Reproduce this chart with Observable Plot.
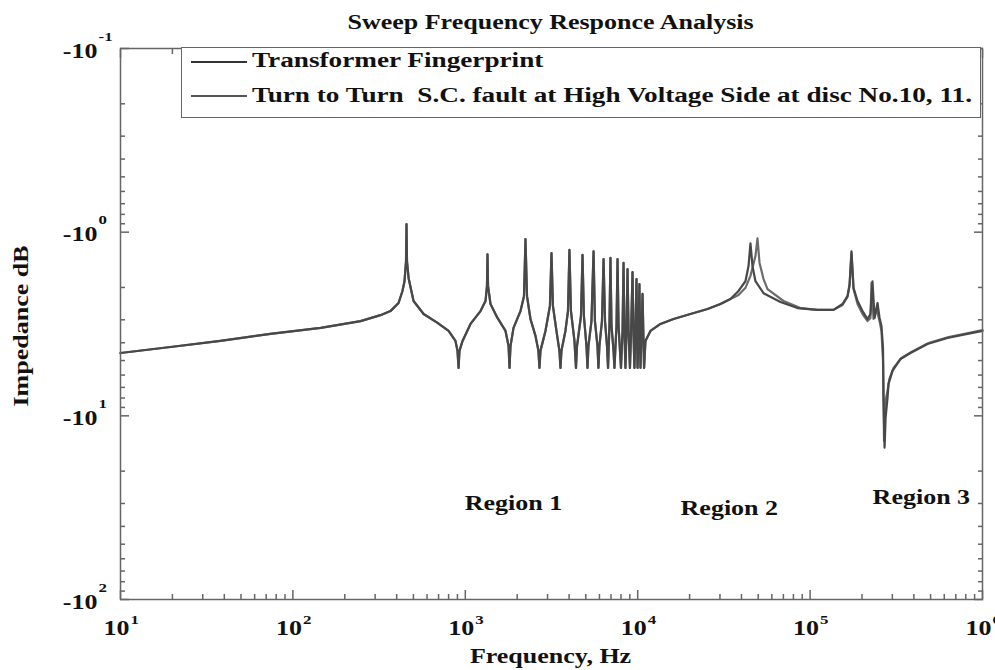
<!DOCTYPE html>
<html>
<head>
<meta charset="utf-8">
<script src="https://cdn.jsdelivr.net/npm/d3@7"></script>
<script src="https://cdn.jsdelivr.net/npm/@observablehq/plot@0.6"></script>
<style>
  body { margin: 0; background: #fff; }
  #wrap { position: relative; width: 995px; height: 670px; overflow: hidden; background: #fff;
          font-family: "Liberation Serif", "Times New Roman", serif; font-weight: bold; color: #111; }
  #legend { position: absolute; box-sizing: border-box; left: 181px; top: 47px; width: 800px; height: 71px;
            border: 1.5px solid #666; background: #fff; }
  .swatch { position: absolute; left: 9px; width: 56px; height: 0; border-top: 2px solid #333; }
  .lab { position: absolute; left: 70px; font-size: 20px; line-height: 1; white-space: pre;
         transform: scaleX(1.36); transform-origin: 0 0; }
</style>
</head>
<body>
<div id="wrap">
  <div id="legend"></div>
</div>
<script>
// ---- data ----
const seriesNames = ["Transformer Fingerprint", "Turn to Turn  S.C. fault at High Voltage Side at disc No.10, 11."];
const seriesColors = ["#484848", "#6c6c6c"];

// Region 1 (both responses overlap)
const sharedFreq = [
  10, 19.5, 38, 74, 145, 247, 322, 368, 410, 432,
  444, 453, 456, 459, 469, 501, 573, 690, 800, 877,
  901, 914, 925, 964, 1072, 1225, 1310, 1336, 1345, 1355,
  1400, 1537, 1711, 1782, 1805, 1829, 1904, 2090, 2190, 2234,
  2280, 2388, 2553, 2656, 2692, 2729, 2917, 3097, 3162, 3223,
  3378, 3516, 3565, 3611, 3809, 3941, 4018, 4100, 4297, 4385,
  4446, 4688, 4786, 4875, 5045, 5115, 5180, 5393, 5546, 5649,
  5844, 5918, 5996, 6205, 6339, 6463, 6637, 6730, 6855, 6950,
  7047, 7243, 7328, 7534, 7638, 7744, 7895, 7999, 8166, 8277,
  8375, 8492, 8610, 8730, 8851, 9017, 9141, 9333, 9462, 9572,
  9705, 9840, 9977, 10115, 10233, 10375, 10520, 10666, 10890, 11091,
  11858, 13552, 16138, 20231, 25410, 30200, 34514
];
const sharedImp = [
  -4.55, -4.22, -3.91, -3.58, -3.32, -3.05, -2.83, -2.69, -2.43, -2.09,
  -1.85, -1.44, -0.905, -1.44, -1.78, -2.37, -2.79, -3.12, -3.45, -3.91,
  -4.43, -5.48, -4.43, -3.91, -3.16, -2.69, -2.37, -1.96, -1.32, -1.96,
  -2.46, -2.93, -3.45, -4.17, -5.48, -4.17, -3.32, -2.69, -2.23, -1.09,
  -2.23, -2.97, -3.67, -4.43, -5.48, -4.43, -3.45, -2.52, -1.30, -2.52,
  -3.45, -4.43, -5.48, -4.43, -3.45, -2.69, -1.25, -2.69, -3.91, -5.48,
  -4.17, -2.86, -1.33, -2.86, -4.17, -5.48, -4.17, -3.05, -1.27, -3.05,
  -4.17, -5.48, -4.17, -3.05, -1.40, -3.05, -4.17, -5.48, -3.24, -1.38,
  -3.24, -4.43, -5.48, -3.24, -1.40, -3.24, -4.43, -5.48, -3.45, -1.47,
  -3.45, -5.48, -3.45, -1.59, -3.45, -5.48, -3.67, -1.65, -3.67, -5.48,
  -3.67, -1.80, -5.48, -3.67, -1.92, -5.48, -3.67, -2.17, -5.48, -3.91,
  -3.45, -3.16, -2.97, -2.79, -2.62, -2.46, -2.31
];

// Regions 2-3, fingerprint
const fpFreq = [
  38440, 42170, 43940, 45090, 46330, 48200, 53700, 67300, 84530, 110400,
  136700, 154200, 164800, 169400, 173800, 178600, 188400, 201400, 215300, 223900,
  230100, 236600, 246000, 252900, 259400, 264800, 266600, 270400, 274100, 281200,
  285100, 300600, 334300, 382000, 479700, 626800, 818500, 1000000
];
const fpImp = [
  -2.09, -1.85, -1.53, -1.15, -1.53, -1.85, -2.15, -2.40, -2.59, -2.65,
  -2.65, -2.46, -2.23, -1.92, -1.27, -2.01, -2.37, -2.69, -2.97, -2.79,
  -1.85, -2.93, -2.43, -2.93, -3.24, -4.27, -7.98, -14.9, -10.25, -7.98,
  -6.70, -5.69, -4.90, -4.55, -4.06, -3.77, -3.58, -3.45
];

// Regions 2-3, short-circuit fault
const scFreq = [
  38440, 42170, 45090, 48200, 49530, 50900, 53700, 56620, 70150, 87950,
  110400, 136700, 154200, 164800, 169400, 173800, 178600, 188400, 201400, 215300,
  223900, 227000, 233300, 242700, 252900, 259400, 264800, 268500, 274100, 281200,
  288400, 304800, 338800, 387300, 486400, 635300, 828000, 1000000
];
const scImp = [
  -2.20, -2.01, -1.73, -1.35, -1.08, -1.47, -1.80, -2.04, -2.37, -2.59,
  -2.65, -2.65, -2.49, -2.25, -1.96, -1.30, -2.04, -2.46, -2.79, -3.05,
  -2.93, -1.89, -2.97, -2.62, -3.05, -3.45, -5.02, -13.7, -8.28, -7.31,
  -6.29, -5.48, -4.84, -4.49, -4.01, -3.72, -3.54, -3.41
];

const regionNames = ["Region 1", "Region 2", "Region 3"];
const regionFreq = [1905, 34000, 442000];
const regionImp = [-30, -32, -28];

const xExponents = [1, 2, 3, 4, 5, 6];
const yExponents = [-1, 0, 1, 2];
const minorMultipliers = [2, 3, 4, 5, 6, 7, 8, 9];

const titleText = "Sweep Frequency Responce Analysis";
const xLabel = "Frequency, Hz";
const yLabel = "Impedance dB";

// ---- build ----
const pts = (F, Z) => F.map((f, i) => ({f, z: Z[i]}));
const fingerprint = [...pts(sharedFreq, sharedImp), ...pts(fpFreq, fpImp)];
const fault = [...pts(sharedFreq, sharedImp), ...pts(scFreq, scImp)];
const regions = regionNames.map((n, i) => ({n, f: regionFreq[i], z: regionImp[i]}));

const majorX = xExponents.map(e => 10 ** e);
const minorX = xExponents.slice(0, -1).flatMap(e => minorMultipliers.map(m => m * 10 ** e));
const majorY = yExponents.map(e => -(10 ** e));
const minorY = yExponents.slice(0, -1).flatMap(e => minorMultipliers.map(m => -m * 10 ** e));

const axisStyle = {stroke: "#666", strokeWidth: 1.5, fill: "none", label: null};
const FS = 20;

const chart = Plot.plot({
  width: 995,
  height: 670,
  marginLeft: 120,
  marginRight: 13,
  marginTop: 48,
  marginBottom: 71,
  style: {fontFamily: '"Liberation Serif", "Times New Roman", serif', fontWeight: "bold", background: "white", color: "#111", overflow: "visible"},
  x: {type: "log", domain: [10, 1e6]},
  y: {type: "log", domain: [-100, -0.1]},
  marks: [
    Plot.line(fault, {x: "f", y: "z", stroke: seriesColors[1], strokeWidth: 2.2}),
    Plot.line(fingerprint, {x: "f", y: "z", stroke: seriesColors[0], strokeWidth: 2.2}),
    Plot.frame({stroke: "#666", strokeWidth: 1.5}),
    Plot.axisX({anchor: "bottom", ticks: majorX, tickSize: -9, ...axisStyle}),
    Plot.axisX({anchor: "bottom", ticks: minorX, tickSize: -5, ...axisStyle}),
    Plot.axisX({anchor: "top", ticks: majorX, tickSize: -9, ...axisStyle}),
    Plot.axisX({anchor: "top", ticks: minorX, tickSize: -5, ...axisStyle}),
    Plot.axisY({anchor: "left", ticks: majorY, tickSize: -9, ...axisStyle}),
    Plot.axisY({anchor: "left", ticks: minorY, tickSize: -5, ...axisStyle}),
    Plot.axisY({anchor: "right", ticks: majorY, tickSize: -9, ...axisStyle}),
    Plot.axisY({anchor: "right", ticks: minorY, tickSize: -5, ...axisStyle}),
    // x tick labels 10^n
    Plot.text(xExponents, {x: e => 10 ** e, frameAnchor: "bottom", text: () => "10", textAnchor: "end", lineAnchor: "bottom", dx: 9, dy: 35, fontSize: FS}),
    Plot.text(xExponents, {x: e => 10 ** e, frameAnchor: "bottom", text: e => String(e), textAnchor: "start", lineAnchor: "bottom", dx: 10, dy: 24, fontSize: 13}),
    // y tick labels -10^n
    Plot.text(yExponents, {y: e => -(10 ** e), frameAnchor: "left", text: () => "-10", textAnchor: "end", lineAnchor: "bottom", dx: -23, dy: 9, fontSize: FS}),
    Plot.text(yExponents, {y: e => -(10 ** e), frameAnchor: "left", text: e => String(e), textAnchor: "start", lineAnchor: "bottom", dx: -22, dy: -8, fontSize: 13}),
    // titles
    Plot.text([titleText], {frameAnchor: "top", text: d => d, lineAnchor: "bottom", dy: -20, dx: -1, fontSize: FS}),
    Plot.text([xLabel], {frameAnchor: "bottom", text: d => d, lineAnchor: "bottom", dy: 63, dx: -1, fontSize: FS}),
    Plot.text([yLabel], {frameAnchor: "left", text: d => d, rotate: -90, lineAnchor: "middle", textAnchor: "middle", dx: -99, dy: 2, fontSize: FS}),
    // region annotations
    Plot.text(regions, {x: "f", y: "z", text: "n", lineAnchor: "middle", fontSize: FS})
  ]
});

const wrap = document.getElementById("wrap");
wrap.insertBefore(chart, wrap.firstChild);
chart.style.position = "absolute";
chart.style.left = "0";
chart.style.top = "0";

// the reference typeface is horizontally widened
const STRETCH = 1.3;
d3.select(chart).selectAll("text").each(function () {
  const L = this.getComputedTextLength();
  if (L > 0) {
    this.setAttribute("textLength", (L * STRETCH).toFixed(2));
    this.setAttribute("lengthAdjust", "spacingAndGlyphs");
  }
});

// legend
const legend = d3.select("#legend");
seriesNames.forEach((name, i) => {
  legend.append("div").attr("class", "swatch")
    .style("top", (i === 0 ? 12.5 : 47) + "px")
    .style("border-top-color", i === 0 ? "#333" : "#555");
  legend.append("div").attr("class", "lab")
    .style("top", (i === 0 ? 2 : 37) + "px")
    .text(name);
});
</script>
</body>
</html>
